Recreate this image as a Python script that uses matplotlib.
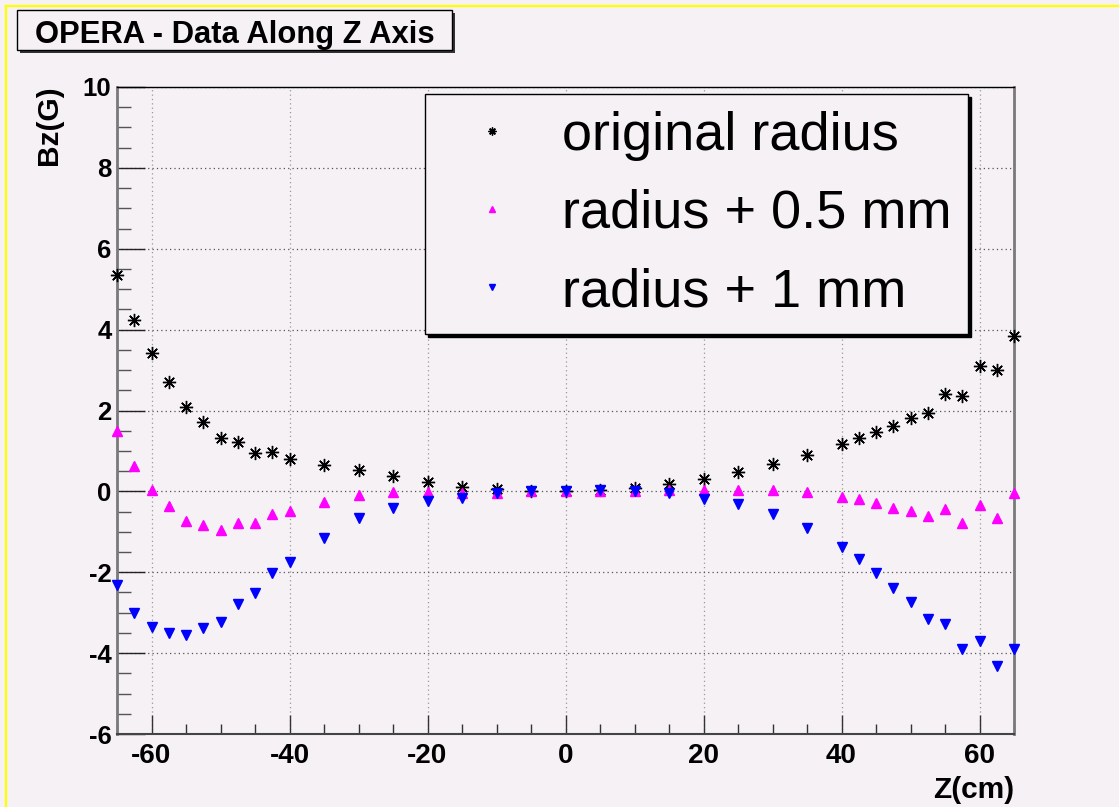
import matplotlib
matplotlib.use('Agg')
import matplotlib.pyplot as plt
from matplotlib.patches import Rectangle
from matplotlib.lines import Line2D
from matplotlib.ticker import MultipleLocator

# ---------------- data ----------------
z_cm = [-65, -62.5, -60, -57.5, -55, -52.5, -50, -47.5, -45, -42.5, -40,
        -35, -30, -25, -20, -15, -10, -5, 0, 5, 10, 15, 20, 25, 30, 35,
        40, 42.5, 45, 47.5, 50, 52.5, 55, 57.5, 60, 62.5, 65]

bz_original = [5.36, 4.25, 3.41, 2.71, 2.08, 1.72, 1.31, 1.21, 0.94, 0.98, 0.80,
               0.64, 0.54, 0.38, 0.22, 0.12, 0.05, 0.02, 0.02, 0.03, 0.08, 0.18,
               0.30, 0.47, 0.68, 0.90,
               1.16, 1.33, 1.46, 1.61, 1.81, 1.95, 2.41, 2.36, 3.09, 3.00, 3.83]

bz_plus_05 = [1.50, 0.62, 0.03, -0.37, -0.74, -0.83, -0.96, -0.79, -0.79, -0.55, -0.49,
              -0.26, -0.08, -0.02, -0.02, -0.03, -0.03, 0.00, 0.00, 0.02, 0.02, 0.03,
              0.03, 0.04, 0.04, -0.02,
              -0.14, -0.20, -0.28, -0.40, -0.48, -0.61, -0.44, -0.78, -0.34, -0.65, -0.05]

bz_plus_1 = [-2.32, -3.00, -3.35, -3.50, -3.56, -3.37, -3.22, -2.79, -2.51, -2.03, -1.74,
             -1.16, -0.67, -0.42, -0.24, -0.16, -0.05, 0.00, 0.02, 0.04, 0.00, -0.05,
             -0.20, -0.32, -0.56, -0.91,
             -1.37, -1.66, -2.02, -2.38, -2.73, -3.16, -3.27, -3.89, -3.70, -4.31, -3.89]

series_labels = ['original radius', 'radius + 0.5 mm', 'radius + 1 mm']
title_text = 'OPERA - Data Along Z Axis'
x_label = 'Z(cm)'
y_label = 'Bz(G)'

# ---------------- style ----------------
plt.rcParams['font.family'] = ['Liberation Sans', 'DejaVu Sans']
plt.rcParams['axes.unicode_minus'] = False

W, H = 1119, 807
bg = '#f5f1f5'
fig = plt.figure(figsize=(W / 100, H / 100), dpi=100)
fig.patch.set_facecolor(bg)

def fx(px):
    return px / W

def fy(py):
    return 1 - py / H

ax = fig.add_axes([fx(117), fy(734), fx(1014) - fx(117), fy(87) - fy(734)])
ax.set_facecolor(bg)

ax.plot(z_cm, bz_original, ls='none', marker=(8, 2, 0), ms=9.5, mew=1.0,
        color='black', mec='black', label=series_labels[0], clip_on=False, zorder=5)
ax.plot(z_cm, bz_plus_05, ls='none', marker='^', ms=7, color='#ff00ff',
        mec='#ff00ff', label=series_labels[1], clip_on=False, zorder=5)
ax.plot(z_cm, bz_plus_1, ls='none', marker='v', ms=7, color='#0000ff',
        mec='#0000ff', label=series_labels[2], clip_on=False, zorder=5)

ax.set_xlim(-65, 65)
ax.set_ylim(-6, 10)
ax.xaxis.set_major_locator(MultipleLocator(20))
ax.xaxis.set_minor_locator(MultipleLocator(5))
ax.yaxis.set_major_locator(MultipleLocator(2))
ax.yaxis.set_minor_locator(MultipleLocator(0.5))

ax.tick_params(which='both', direction='in', top=False, right=False)
ax.tick_params(axis='x', which='major', length=13.7, width=1.0, color='#333333',
               pad=6.5, labelsize=20)
ax.tick_params(axis='x', which='minor', length=7.2, width=1.0, color='#333333')
ax.tick_params(axis='y', which='major', length=20, width=1.0, color='#222222',
               pad=4, labelsize=18.5)
ax.tick_params(axis='y', which='minor', length=10, width=1.0, color='#555555')
for lab in ax.get_xticklabels() + ax.get_yticklabels():
    lab.set_fontweight('bold')

ax.xaxis.grid(True, which='major', ls=(0, (1, 2.5)), color='#999999', lw=0.9)
ax.yaxis.grid(True, which='major', ls=(0, (1, 2.5)), color='#555555', lw=0.9)
ax.set_axisbelow(True)

ax.spines['left'].set_color('#7a7a7a')
ax.spines['left'].set_linewidth(2.0)
ax.spines['right'].set_color('#7a7a7a')
ax.spines['right'].set_linewidth(2.0)
ax.spines['bottom'].set_color('#444444')
ax.spines['bottom'].set_linewidth(1.5)
ax.spines['top'].set_color('black')
ax.spines['top'].set_linewidth(1.0)

# axis titles
fig.text(fx(49), fy(125), y_label, rotation=90, ha='center', va='center',
         fontsize=21.5, fontweight='bold')
fig.text(fx(1014), fy(798), x_label, ha='right', va='baseline',
         fontsize=21.5, fontweight='bold')

# legend
leg = ax.legend(loc='upper left', bbox_to_anchor=(fx(425), fy(94)),
                bbox_transform=fig.transFigure, borderaxespad=0,
                prop={'size': 39, 'weight': 'normal'}, markerscale=0.6,
                handlelength=1.85, handletextpad=0.37, borderpad=0.31,
                labelspacing=0.52, fancybox=False, framealpha=1,
                facecolor=bg, edgecolor='black',
                shadow={'color': 'black', 'alpha': 1.0})
leg.get_frame().set_linewidth(1.0)
leg.set_zorder(10)

# title box with shadow
fig.add_artist(Rectangle((fx(20), fy(53)), fx(455) - fx(20), fy(13) - fy(53),
                         transform=fig.transFigure, facecolor='#333333',
                         edgecolor='none', zorder=1))
fig.add_artist(Rectangle((fx(17), fy(50)), fx(452) - fx(17), fy(10) - fy(50),
                         transform=fig.transFigure, facecolor=bg,
                         edgecolor='black', lw=1.0, zorder=2))
fig.text(fx(234.5), fy(43.3), title_text, ha='center', va='baseline',
         fontsize=22.3, fontweight='bold', zorder=3)

# yellow canvas highlight (top and left)
fig.add_artist(Line2D([fx(6), fx(6)], [0, fy(6)], transform=fig.transFigure,
                      color='#ffff00', lw=1.6))
fig.add_artist(Line2D([fx(6), 1], [fy(6), fy(6)], transform=fig.transFigure,
                      color='#ffff00', lw=1.6))

fig.savefig('out.png', dpi=100, facecolor=bg)
